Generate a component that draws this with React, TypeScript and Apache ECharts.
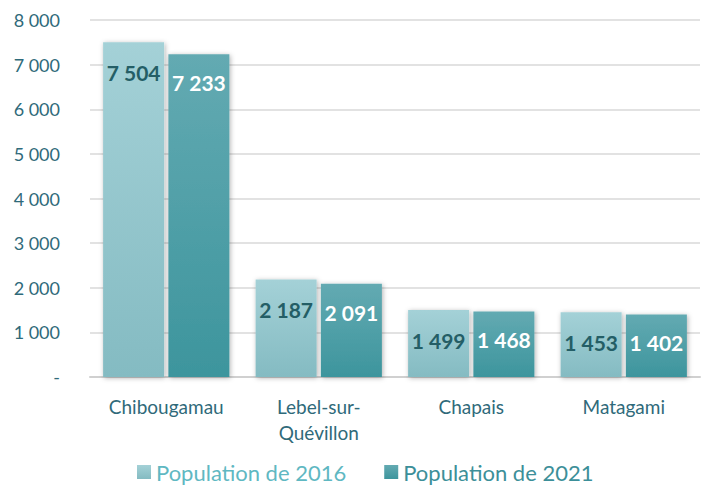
import React, { useEffect, useRef } from "react";
import * as echarts from "echarts";

const categories = ["Chibougamau", "Lebel-sur-\nQuévillon", "Chapais", "Matagami"];
const pop2016 = [7504, 2187, 1499, 1453];
const pop2021 = [7233, 2091, 1468, 1402];
const yTicks = [0, 1000, 2000, 3000, 4000, 5000, 6000, 7000, 8000];

const fmt = (v: number) =>
  v === 0 ? "-" : String(Math.round(v)).replace(/\B(?=(\d{3})+(?!\d))/g, " ");

const FONT = "Lato, 'Noto Sans', sans-serif";

export default function App() {
  const ref = useRef<HTMLDivElement>(null);
  useEffect(() => {
    if (!ref.current) return;
    const chart = echarts.init(ref.current, null, { renderer: "svg" });
    const grad = (a: string, b: string) =>
      new echarts.graphic.LinearGradient(0, 0, 0, 1, [
        { offset: 0, color: a },
        { offset: 1, color: b },
      ]);
    chart.setOption({
      animation: false,
      backgroundColor: "#ffffff",
      textStyle: { fontFamily: FONT },
      grid: { left: 90, right: 3, top: 20, bottom: 110 },
      legend: {
        bottom: -1,
        left: 132,
        itemWidth: 14,
        itemHeight: 14,
        itemGap: 38,
        icon: "rect",
        data: [
          { name: "Population de 2016", textStyle: { color: "#5fb8c2" } },
          { name: "Population de 2021", textStyle: { color: "#3c8f99" } },
        ],
        textStyle: { fontSize: 22, fontFamily: FONT },
      },
      xAxis: {
        type: "category",
        data: categories,
        axisTick: { show: false },
        axisLine: { lineStyle: { color: "#d0d0d0", width: 2 } },
        axisLabel: {
          color: "#2f6a7a",
          fontSize: 19,
          margin: 16,
          lineHeight: 26,
          fontFamily: FONT,
        },
      },
      yAxis: {
        type: "value",
        min: yTicks[0],
        max: yTicks[yTicks.length - 1],
        interval: 1000,
        axisLine: { show: false },
        axisTick: { show: false },
        splitLine: { lineStyle: { color: "#d9d9d9", width: 1.5 } },
        axisLabel: {
          color: "#2f6a7a",
          fontSize: 18,
          margin: 30,
          fontFamily: FONT,
          formatter: (v: number) => fmt(v),
        },
      },
      series: [
        {
          name: "Population de 2016",
          type: "bar",
          data: pop2016,
          barWidth: "40%",
          barGap: "7%",
          itemStyle: {
            color: grad("#a4d1d7", "#84bbc2"),
            shadowBlur: 5,
            shadowColor: "rgba(0,0,0,0.3)",
            shadowOffsetX: 1,
            shadowOffsetY: 1,
          },
          label: {
            show: true,
            position: "insideTop",
            distance: 20,
            color: "#245e66",
            fontWeight: "bold",
            fontSize: 21,
            fontFamily: FONT,
            formatter: (p: any) => fmt(p.value),
          },
        },
        {
          name: "Population de 2021",
          type: "bar",
          data: pop2021,
          barWidth: "40%",
          itemStyle: {
            color: grad("#63aab2", "#3d959d"),
            shadowBlur: 5,
            shadowColor: "rgba(0,0,0,0.3)",
            shadowOffsetX: 1,
            shadowOffsetY: 1,
          },
          label: {
            show: true,
            position: "insideTop",
            distance: 18,
            color: "#ffffff",
            fontWeight: "bold",
            fontSize: 21,
            fontFamily: FONT,
            formatter: (p: any) => fmt(p.value),
          },
        },
      ],
    });
    return () => chart.dispose();
  }, []);
  return (
    <div
      ref={ref}
      style={{ position: "fixed", left: 0, top: 0, width: 703, height: 487 }}
    />
  );
}
